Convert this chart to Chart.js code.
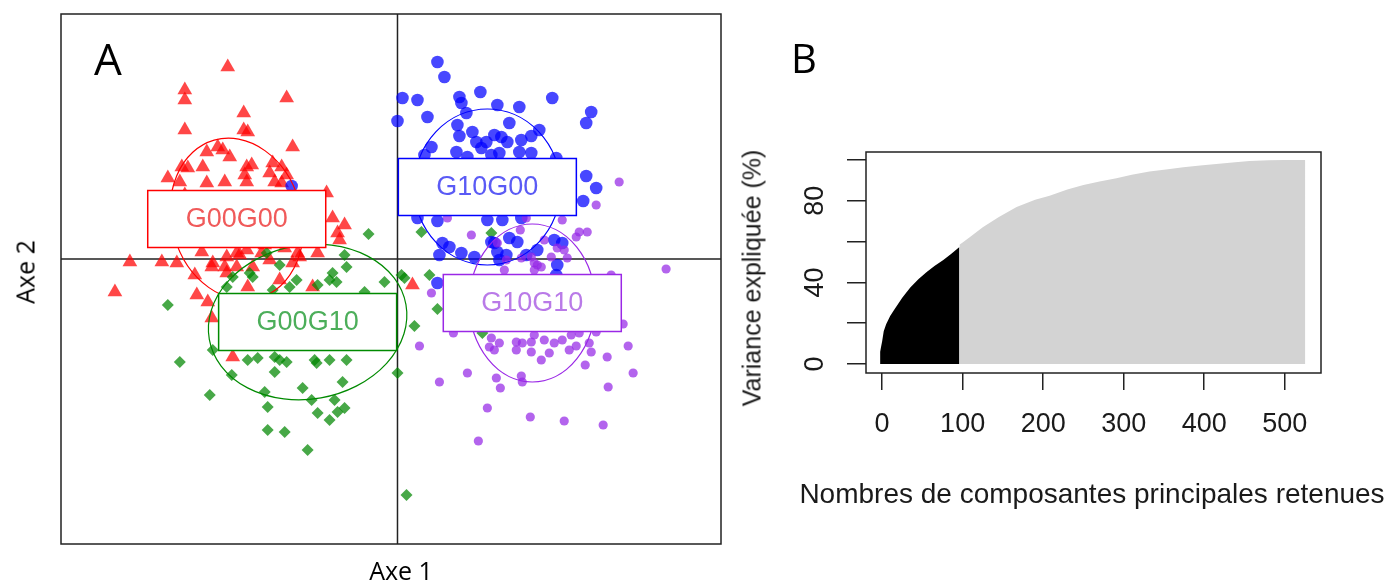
<!DOCTYPE html>
<html>
<head>
<meta charset="utf-8">
<script src="https://cdn.jsdelivr.net/npm/chart.js@4.4.1/dist/chart.umd.min.js"></script>
<style>
  body { margin: 0; background: #fff; }
  #page { position: relative; width: 1388px; height: 581px; overflow: hidden; background: #fff; }
  canvas { position: absolute; top: 0; }
  .lbl { position: absolute; white-space: nowrap; color: #000; line-height: 1; }
  .sans { font-family: "Open Sans", sans-serif; }
  .r { font-family: "Liberation Sans", Arial, sans-serif; color: #1a1a1a; }
</style>
</head>
<body>
<div id="page">
  <canvas id="panelA" width="740" height="581" style="left:0;width:740px;height:581px"></canvas>
  <canvas id="panelB" width="658" height="581" style="left:730px;width:658px;height:581px"></canvas>

  <div class="lbl sans" style="left:94px;top:36px;font-size:44px">A</div>
  <div class="lbl sans" style="left:791px;top:38px;font-size:40px">B</div>
  <div class="lbl sans" style="left:401px;top:570px;font-size:25px;transform:translate(-50%,-50%)">Axe 1</div>
  <div class="lbl sans" style="left:25px;top:272px;font-size:25px;transform:translate(-50%,-50%) rotate(-90deg)">Axe 2</div>
  <div class="lbl r" style="left:752px;top:278px;font-size:25px;transform:translate(-50%,-50%) rotate(-90deg)">Variance expliquée (%)</div>
  <div class="lbl r" style="left:1092px;top:494px;font-size:28px;transform:translate(-50%,-50%)">Nombres de composantes principales retenues</div>
</div>

<script>
// ---- Panel A : projection des individus sur les axes 1 et 2 ----
const groupes = ['G00G00', 'G00G10', 'G10G00', 'G10G10'];

const g00g00 = [[-1.70,1.92],[-2.13,1.69],[-2.13,1.59],[-1.11,1.61],[-1.54,1.46],[-2.13,1.29],[-1.54,1.29],[-1.50,1.27],
  [-1.05,1.12],[-1.80,1.12],[-1.91,1.07],[-1.68,1.02],[-1.75,1.09],[-2.16,0.92],[-2.10,0.91],[-1.95,0.92],[-1.51,0.92],
  [-1.46,0.94],[-1.53,0.84],[-1.25,0.96],[-1.16,0.92],[-1.28,0.86],[-2.30,0.81],[-2.18,0.77],[-1.91,0.76],[-1.73,0.77],
  [-1.51,0.77],[-1.23,0.77],[-1.11,0.84],[-1.16,0.76],[-0.71,0.66],[-0.65,0.41],[-0.60,0.26],[-2.68,-0.03],[-2.36,-0.03],
  [-2.21,-0.04],[-1.96,0.07],[-1.85,-0.04],[-1.71,0.02],[-1.61,0.06],[-1.51,0.09],[-1.00,0.06],[-0.80,0.06],[-1.86,-0.08],
  [-2.03,-0.16],[-2.01,-0.36],[-2.83,-0.33],[-1.90,-0.43],[-1.73,-0.08],[-1.58,0.04],[-1.61,-0.08],[-1.50,-0.28],[-1.18,-0.21],
  [-0.85,-0.28],[-0.98,0.02],[-0.58,0.19],[-0.53,0.34],[-1.86,-0.59],[-1.65,-0.98],[-1.36,0.06],[-1.28,-0.01],[0.15,-0.26],
  [-1.05,-0.04],[-1.45,-0.08],[-1.71,-0.14],[-2.13,0.64],[-1.13,0.11],[-1.33,0.14]];

const g00g10 = [[-0.29,0.25],[-0.53,0.04],[-0.51,-0.08],[-0.65,-0.14],[-0.68,-0.21],[-0.61,-0.23],[-0.80,-0.26],[-0.13,-0.23],
  [-0.33,-0.33],[-1.01,-0.21],[-1.18,-0.06],[-1.31,0.06],[-1.45,-0.18],[-1.48,-0.14],[-1.65,-0.18],[-1.25,-0.31],[-1.08,-0.28],
  [-2.30,-0.46],[0.17,-0.67],[-2.18,-1.03],[-1.85,-0.91],[-1.50,-1.01],[-1.40,-0.99],[-1.23,-0.98],[-1.18,-1.01],[-1.11,-1.03],
  [-1.23,-1.13],[-0.83,-1.01],[-0.81,-1.04],[-0.68,-1.01],[-0.51,-1.01],[-1.66,-1.16],[0.00,-1.14],[-0.55,-1.23],[-0.95,-1.29],
  [-1.33,-1.33],[-1.88,-1.36],[-0.86,-1.41],[-0.63,-1.41],[-1.30,-1.48],[-0.80,-1.54],[-0.60,-1.53],[-0.53,-1.49],[-0.68,-1.61],
  [-1.30,-1.71],[-1.13,-1.73],[-0.90,-1.91],[0.04,-0.16],[0.07,-0.19],[0.32,-0.16],[0.40,-0.50],[0.09,-2.36],[0.24,0.27],
  [0.94,0.26],[0.85,-0.74],[-1.71,-0.28]];

const g10g00 = [[0.40,1.97],[0.47,1.82],[0.05,1.61],[0.20,1.59],[0.62,1.62],[0.64,1.56],[0.83,1.67],[1.55,1.61],[0.00,1.38],
  [0.30,1.42],[0.69,1.46],[1.00,1.54],[1.22,1.52],[1.94,1.47],[1.89,1.36],[0.60,1.34],[1.12,1.36],[1.42,1.29],[0.75,1.27],
  [0.62,1.23],[0.97,1.24],[1.04,1.22],[1.34,1.23],[0.79,1.17],[0.89,1.17],[1.10,1.17],[1.24,1.19],[0.34,1.12],[0.59,1.07],
  [0.84,1.11],[0.94,1.04],[1.02,1.06],[1.22,1.07],[1.34,1.06],[0.27,1.04],[1.59,1.01],[0.70,1.02],[1.89,0.83],[1.99,0.71],
  [1.86,0.58],[0.20,0.41],[0.40,0.38],[0.90,0.39],[1.05,0.39],[1.24,0.41],[0.45,0.16],[0.52,0.12],[0.64,0.06],[0.42,0.04],
  [0.77,0.02],[0.97,0.16],[1.12,0.21],[1.00,0.07],[1.29,0.04],[1.40,0.09],[1.57,0.19],[1.65,0.16],[1.60,-0.06],[0.94,0.17],
  [1.20,0.17],[1.02,-0.01],[1.09,0.04],[0.40,-0.24],[1.59,-0.16],[-1.06,0.73]];

const g10g10 = [[2.22,0.77],[1.99,0.54],[1.65,0.39],[1.23,0.29],[0.74,0.24],[1.82,0.27],[1.90,0.27],[1.79,0.22],[1.67,0.09],
  [1.70,0.01],[1.60,0.11],[1.54,0.02],[1.47,0.19],[1.29,0.41],[0.50,0.41],[2.69,-0.10],[1.37,-0.04],[1.44,-0.08],[1.37,-0.11],
  [1.07,-0.11],[0.34,-0.34],[2.14,-0.16],[2.26,-0.65],[0.56,-0.74],[0.22,-0.87],[0.94,-0.79],[0.92,-0.88],[0.97,-0.91],
  [1.02,-0.84],[1.19,-0.83],[1.25,-0.84],[1.19,-0.91],[1.34,-0.83],[1.37,-0.76],[1.34,-0.93],[1.47,-0.81],[1.57,-0.84],
  [1.65,-0.81],[1.74,-0.76],[1.79,-0.87],[1.72,-0.91],[1.44,-1.01],[1.52,-0.94],[1.92,-0.84],[1.94,-0.93],[2.31,-0.87],
  [2.10,-0.98],[1.88,-1.06],[2.36,-1.14],[0.70,-1.14],[0.42,-1.23],[0.99,-1.19],[1.03,-1.29],[1.24,-1.17],[1.25,-1.23],
  [2.11,-1.28],[0.90,-1.49],[1.33,-1.58],[1.67,-1.62],[2.06,-1.66],[0.81,-1.82],[1.00,0.16],[1.09,-0.01],[1.40,-0.06],
  [1.24,0.01],[1.34,0.02],[1.64,-0.68],[1.99,-0.73],[1.82,-0.74]];

// ellipses d'inertie (centre, demi-axes, inclinaison en degrés)
const centreX = [-1.61, -0.90, 0.90, 1.35];
const centreY = [0.40, -0.63, 0.72, -0.44];
const demiAxeX = [0.65, 1.00, 0.73, 0.63];
const demiAxeY = [0.82, 0.77, 0.78, 0.79];
const inclinaison = [-16, -10, 0, 0];

const couleurs = ['#ff0000', '#008a00', '#0000ff', '#9a28e6'];
const couleursPts = ['rgba(255,0,0,0.72)', 'rgba(0,135,0,0.72)', 'rgba(0,0,255,0.72)', 'rgba(150,40,230,0.72)'];
const couleursTxt = ['#f05a5a', '#4cae5a', '#5a5af5', '#b97ae8'];
const formes = ['triangle', 'rectRot', 'circle', 'circle'];
const tailles = [8.5, 6, 6.3, 4.6];
const series = [g00g00, g00g10, g10g00, g10g10];

const croixEtCadre = {
  id: 'croixEtCadre',
  beforeDatasetsDraw(chart) {
    const { ctx, chartArea: a, scales: { x, y } } = chart;
    ctx.save();
    ctx.strokeStyle = '#222';
    ctx.lineWidth = 1.5;
    ctx.beginPath();
    ctx.moveTo(x.getPixelForValue(0), a.top);
    ctx.lineTo(x.getPixelForValue(0), a.bottom);
    ctx.moveTo(a.left, y.getPixelForValue(0));
    ctx.lineTo(a.right, y.getPixelForValue(0));
    ctx.stroke();
    ctx.restore();
  },
  afterDatasetsDraw(chart) {
    const { ctx, chartArea: a, scales: { x, y } } = chart;
    const kx = Math.abs(x.getPixelForValue(1) - x.getPixelForValue(0));
    const ky = Math.abs(y.getPixelForValue(1) - y.getPixelForValue(0));
    ctx.save();
    // ellipses
    groupes.forEach((g, i) => {
      ctx.strokeStyle = couleurs[i];
      ctx.lineWidth = 1.2;
      ctx.beginPath();
      ctx.ellipse(x.getPixelForValue(centreX[i]), y.getPixelForValue(centreY[i]),
        demiAxeX[i] * kx, demiAxeY[i] * ky, inclinaison[i] * Math.PI / 180, 0, 2 * Math.PI);
      ctx.stroke();
    });
    // étiquettes
    groupes.forEach((g, i) => {
      const cx = x.getPixelForValue(centreX[i]);
      const cy = y.getPixelForValue(centreY[i]);
      const w = 178, h = 57;
      ctx.fillStyle = '#fff';
      ctx.fillRect(cx - w / 2, cy - h / 2, w, h);
      ctx.strokeStyle = couleurs[i];
      ctx.lineWidth = 1.5;
      ctx.strokeRect(cx - w / 2, cy - h / 2, w, h);
      ctx.fillStyle = couleursTxt[i];
      ctx.font = '27px "Liberation Sans", Arial, sans-serif';
      ctx.textAlign = 'center';
      ctx.textBaseline = 'middle';
      ctx.fillText(g, cx, cy + 1);
    });
    // cadre
    ctx.strokeStyle = '#222';
    ctx.lineWidth = 1.5;
    ctx.strokeRect(a.left, a.top, a.right - a.left, a.bottom - a.top);
    ctx.restore();
  }
};

new Chart(document.getElementById('panelA'), {
  type: 'scatter',
  data: {
    datasets: series.map((s, i) => ({
      label: groupes[i],
      data: s.map(p => ({ x: p[0], y: p[1] })),
      pointStyle: formes[i],
      pointRadius: tailles[i],
      pointBackgroundColor: couleursPts[i],
      pointBorderWidth: 0,
      order: 4 - i
    }))
  },
  options: {
    responsive: false,
    animation: false,
    layout: { padding: { left: 61, top: 14, right: 19, bottom: 37 } },
    plugins: { legend: { display: false }, tooltip: { enabled: false } },
    scales: {
      x: { type: 'linear', display: false, min: -3.37, max: 3.24 },
      y: { type: 'linear', display: false, min: -2.85, max: 2.45 }
    }
  },
  plugins: [croixEtCadre]
});

// ---- Panel B : variance cumulée expliquée ----
const compRetenues = [-2.5, 0, 2, 5, 10, 14, 20, 25, 35, 45, 55, 65, 76, 86, 96];
const varRetenues = [6, 11, 16, 19.5, 23.5, 26, 29.5, 32.5, 37.5, 41.5, 45, 48, 51, 54, 57.3];
const compAutres = [96, 100, 110, 125, 145, 167, 190, 208, 230, 250, 270, 291, 310, 332, 355, 374, 395, 415, 435, 456, 480, 500, 525.5];
const varAutres = [58.5, 59.5, 62.5, 67, 72, 77, 80.5, 82.5, 85.5, 87.7, 89.5, 91, 92.7, 94.3, 95.5, 96.4, 97.3, 98, 98.8, 99.5, 99.8, 100, 100];
const ticksY = [0, 40, 80];

const cadreB = {
  id: 'cadreB',
  afterDraw(chart) {
    const { ctx, chartArea: a, scales: { y } } = chart;
    ctx.save();
    ctx.strokeStyle = '#222';
    ctx.lineWidth = 1.5;
    ctx.strokeRect(a.left, a.top, a.right - a.left, a.bottom - a.top);
    ctx.fillStyle = '#1a1a1a';
    ctx.font = '27px "Liberation Sans", Arial, sans-serif';
    ctx.textAlign = 'center';
    ctx.textBaseline = 'middle';
    ticksY.forEach(v => {
      ctx.save();
      ctx.translate(a.left - 50, y.getPixelForValue(v));
      ctx.rotate(-Math.PI / 2);
      ctx.fillText(String(v), 0, 0);
      ctx.restore();
    });
    ctx.restore();
  }
};

new Chart(document.getElementById('panelB'), {
  type: 'line',
  data: {
    datasets: [
      {
        data: compRetenues.map((c, i) => ({ x: c, y: varRetenues[i] })),
        fill: 'origin',
        backgroundColor: '#000',
        borderColor: 'rgba(0,0,0,0)',
        borderWidth: 0,
        pointRadius: 0,
        tension: 0
      },
      {
        data: compAutres.map((c, i) => ({ x: c, y: varAutres[i] })),
        fill: 'origin',
        backgroundColor: '#d3d3d3',
        borderColor: 'rgba(0,0,0,0)',
        borderWidth: 0,
        pointRadius: 0,
        tension: 0
      }
    ]
  },
  options: {
    responsive: false,
    animation: false,
    layout: { padding: { left: 117, top: 152, right: 67, bottom: 0 } },
    plugins: { legend: { display: false }, tooltip: { enabled: false } },
    scales: {
      x: {
        type: 'linear',
        min: -20,
        max: 545,
        afterFit: s => { s.height = 208; },
        border: { display: false },
        grid: { drawOnChartArea: false, drawTicks: true, tickLength: 17, color: '#222', lineWidth: 1.5 },
        ticks: {
          stepSize: 100,
          includeBounds: false,
          color: '#1a1a1a',
          padding: 18,
          maxRotation: 0,
          font: { family: '"Liberation Sans", Arial, sans-serif', size: 27 }
        }
      },
      y: {
        type: 'linear',
        min: -4.4,
        max: 103.9,
        afterFit: s => { s.width = 19; },
        border: { display: false },
        grid: { drawOnChartArea: false, drawTicks: true, tickLength: 19, color: '#222', lineWidth: 1.5 },
        ticks: { stepSize: 20, includeBounds: false, display: false }
      }
    }
  },
  plugins: [cadreB]
});
</script>
</body>
</html>
